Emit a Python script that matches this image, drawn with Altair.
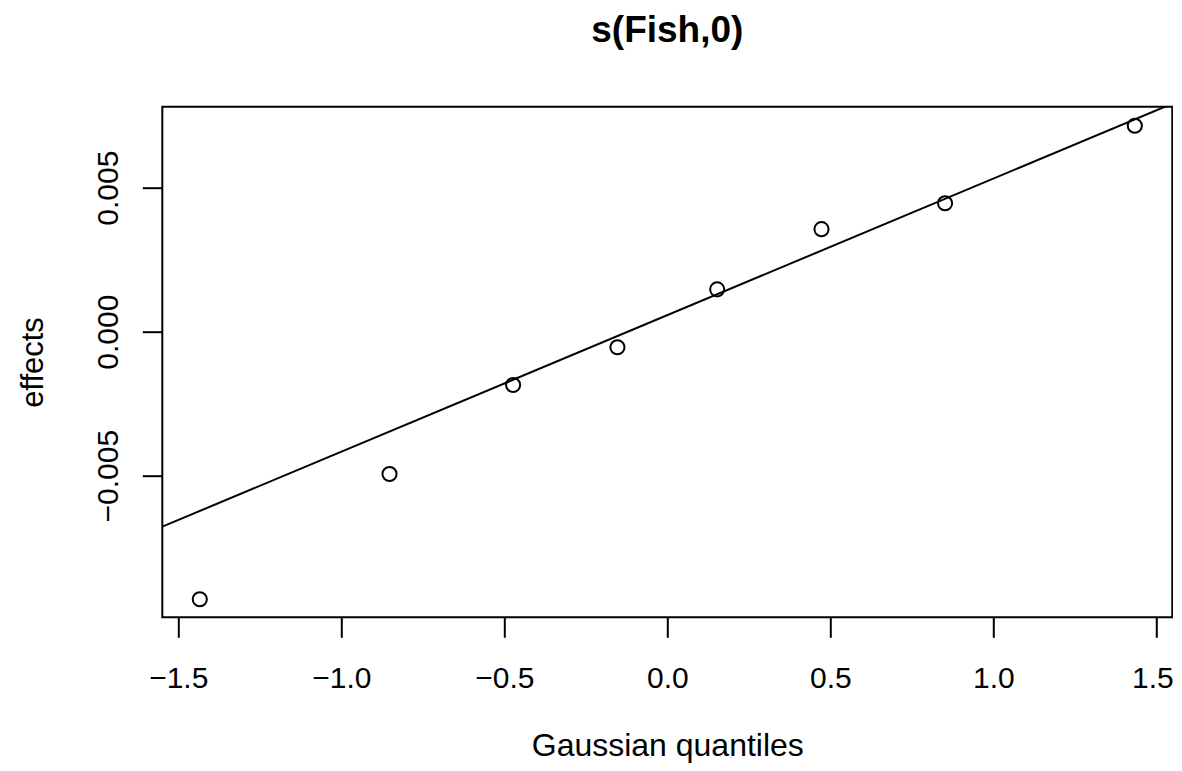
import altair as alt
import pandas as pd

# Gaussian quantiles (theoretical) and observed random effects
quantiles = [-1.434, -0.852, -0.473, -0.153, 0.153, 0.473, 0.852, 1.434]
effects = [-0.00929, -0.00494, -0.00185, -0.00054, 0.00147, 0.00356, 0.00446, 0.00715]

# reference line (qqline): intercept and slope
line_intercept = 0.000574
line_slope = 0.004741

x_domain = [-1.549, 1.549]
y_domain = [-0.009917, 0.0078125]
x_ticks = [-1.5, -1.0, -0.5, 0.0, 0.5, 1.0, 1.5]
y_ticks = [-0.005, 0.0, 0.005]
main_title = ["s(Fish,0)"]

FONT = "Liberation Sans"
W, H = 1010, 510.6

pts = pd.DataFrame({"q": quantiles, "e": effects})
line_df = pd.DataFrame({"q": x_domain})
title_df = pd.DataFrame({"t": main_title})

xscale = alt.Scale(domain=x_domain, nice=False, zero=False)
yscale = alt.Scale(domain=y_domain, nice=False, zero=False)

xaxis = alt.Axis(
    values=x_ticks, format=".1f", title="Gaussian quantiles",
    domain=False, grid=False, tickSize=20, tickWidth=2, tickColor="black",
    labelFont=FONT, labelFontSize=30, labelColor="black", labelPadding=26,
    labelFlush=False, labelOverlap=False,
    labelOffset={"condition": {"test": "datum.value >= 1.5", "value": -4}, "value": 0},
    titleFont=FONT, titleFontSize=32, titleFontWeight="normal", titleColor="black",
    titleY=138.5, titleBaseline="alphabetic",
)
yaxis = alt.Axis(
    values=y_ticks, format=".3f", title="effects",
    domain=False, grid=False, tickSize=20, tickWidth=2, tickColor="black",
    labelFont=FONT, labelFontSize=30, labelColor="black", labelPadding=25,
    labelAngle=270, labelAlign="center", labelBaseline="alphabetic",
    labelFlush=False, labelOverlap=False,
    titleFont=FONT, titleFontSize=31, titleFontWeight="normal", titleColor="black",
    titleAngle=270, titleX=-119.6, titleY=255.3, titleBaseline="alphabetic",
    titleAlign="center",
)

points = alt.Chart(pts).mark_point(
    shape="circle", filled=False, color="black", size=200, strokeWidth=2, opacity=1
).encode(
    x=alt.X("q:Q", scale=xscale, axis=xaxis),
    y=alt.Y("e:Q", scale=yscale, axis=yaxis),
)

line = alt.Chart(line_df).transform_calculate(
    e=f"{line_intercept} + {line_slope} * datum.q"
).mark_line(color="black", strokeWidth=2, clip=True).encode(
    x=alt.X("q:Q", scale=xscale),
    y=alt.Y("e:Q", scale=yscale),
)

title = alt.Chart(title_df).mark_text(
    font=FONT, fontSize=37, fontWeight="bold", color="black",
    align="center", baseline="alphabetic",
).encode(
    x=alt.value(W / 2),
    y=alt.value(-65),
    text="t:N",
)

chart = alt.layer(line, points, title).properties(
    width=W,
    height=H,
    autosize=alt.AutoSizeParams(type="none"),
    padding={"left": 154.3, "top": 98.7, "right": 1, "bottom": 145.5},
).configure(
    background="white"
).configure_view(
    stroke="black", strokeWidth=2
)

chart.save("out.html", embed_options={"renderer": "svg", "actions": False})
